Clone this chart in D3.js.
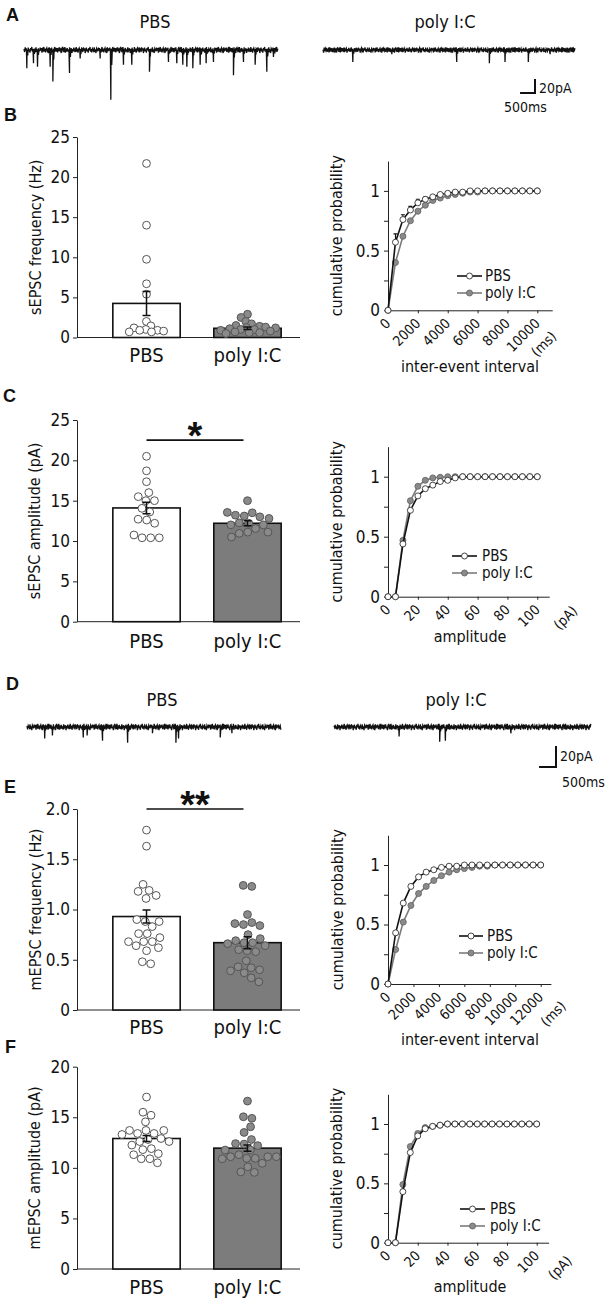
<!DOCTYPE html>
<html>
<head>
<meta charset="utf-8">
<script src="https://cdn.jsdelivr.net/npm/d3@7"></script>
<style>
body { margin: 0; background: #fff; }
svg text { font-family: 'Liberation Sans Narrow', 'Arial Narrow', 'DejaVu Sans Condensed', sans-serif; fill: #111; }
svg text.letter { font-family: 'Liberation Sans', Arial, sans-serif; font-weight: bold; }
</style>
</head>
<body>
<script>
// ---------- data ----------
const groups = ["PBS", "poly I:C"];

// example traces: spontaneous events [time ms, amplitude pA]
const tracePbsA = [[89,26],[312,19],[446,24],[870,24],[960,45],[1517,33],[1874,12],[2543,12],[2900,71],
  [3323,21],[3602,21],[4193,31],[4829,17],[5108,19],[5309,21],[5443,24],[5644,26],[5889,21],[6090,19],
  [6335,17],[7004,36],[7339,17],[7729,21],[8120,31],[8343,10]];
const tracePolyA = [[993,17],[2300,6],[4473,17],[5566,19],[6090,17],[6870,17],[7600,6]];
const tracePbsD = [[517,11],[745,8],[1656,10],[1770,8],[2226,13],[2966,15],[3700,6],[4392,15],[4470,11],[5700,10],[6045,6]];
const tracePolyD = [[1917,9],[3116,14],[3284,13],[5222,6]];
// baseline noise (normalised)
const noise = [0.3,-0.6,0.8,-0.2,0.5,-0.9,0.1,0.7,-0.4,0.2,-0.8,0.6,-0.1,0.9,-0.5,0.3,-0.7,0.4,0.0,-0.3,
  0.8,-0.6,0.2,-0.9,0.5,0.1,-0.4,0.7,-0.2,0.6,-0.8,0.3,-0.1,0.9,-0.5,0.4,-0.7,0.2,0.6,-0.3,
  0.1,-0.9,0.8,-0.4,0.5,-0.2,0.7,-0.6,0.0,0.4,-0.8,0.9,-0.1,0.3,-0.5,0.6,-0.7,0.2,-0.3,0.8,
  -0.4,0.1,-0.9,0.5,0.7,-0.2,0.3,-0.6,0.9,-0.8,0.4,-0.1,0.6,-0.5,0.2,-0.7,0.8,-0.3,0.0,0.5,
  -0.9,0.3,-0.4,0.7,-0.2,0.1,-0.6,0.9,-0.5,0.4,-0.8,0.2,0.6,-0.1,0.3,-0.7,0.5];

// B: sEPSC frequency
const bMeans = [4.25, 1.15];
const bSem = [1.5, 0.15];
const bPbsDots = [21.7, 14.0, 9.75, 6.7, 5.4, 2.0, 1.45, 1.2, 1.0, 0.9, 0.9, 0.7, 0.7, 0.8];
const bPolyDots = [2.9, 2.5, 2.0, 1.7, 1.5, 1.4, 1.3, 1.25, 1.2, 1.1, 1.0, 1.0, 0.9, 0.8, 0.7, 0.6, 0.6, 0.5];
const bInterval = [0,500,1000,1500,2000,2500,3000,3500,4000,4500,5000,5500,6000,6500,7000,7500,8000,8500,9000,9500,10000];
const bCumPbs = [0,0.57,0.76,0.84,0.90,0.93,0.95,0.97,0.98,0.99,0.99,1,1,1,1,1,1,1,1,1,1];
const bCumPbsErr = [0,0.07,0.04,0.03,0.03,0.02,0.01,0,0,0,0,0,0,0,0,0,0,0,0,0,0];
const bCumPoly = [0,0.40,0.62,0.75,0.83,0.88,0.92,0.94,0.96,0.97,0.98,0.99,0.99,1,1,1,1,1,1,1,1];

// C: sEPSC amplitude
const cMeans = [14.1, 12.2];
const cSem = [0.72, 0.3];
const cSig = 22.5;
const cPbsDots = [20.5, 18.7, 17.35, 16.0, 15.5, 15.0, 15.0, 14.05, 13.6, 12.7, 12.2, 12.6, 10.75, 10.4, 10.4, 10.4];
const cPolyDots = [15.0, 13.2, 12.8, 13.1, 13.55, 13.5, 13.0, 10.95, 11.1, 10.5, 11.1, 11.55, 12.0, 12.0, 12.25, 12.2];
const cAmp = [0,5,10,15,20,25,30,35,40,45,50,55,60,65,70,75,80,85,90,95,100];
const cCumPbs = [0,0,0.44,0.72,0.84,0.90,0.93,0.96,0.97,0.99,1,1,1,1,1,1,1,1,1,1,1];
const cCumPoly = [0,0,0.47,0.80,0.92,0.97,0.99,0.995,1,1,1,1,1,1,1,1,1,1,1,1,1];

// E: mEPSC frequency
const eMeans = [0.93, 0.67];
const eSem = [0.065, 0.06];
const eSig = 2.0;
const ePbsDots = [1.79,1.63,1.25,1.19,1.18,1.14,1.11,0.88,0.88,0.90,0.83,0.76,0.76,0.72,0.68,0.68,0.68,0.64,0.62,0.59,0.48,0.46];
const ePolyDots = [1.23,1.24,0.95,0.87,0.86,0.84,0.85,0.75,0.71,0.69,0.67,0.67,0.66,0.64,0.60,0.59,0.58,0.49,0.42,0.43,0.37,0.40,0.39,0.32,0.28];
const eInterval = [0,600,1200,1800,2400,3000,3600,4200,4800,5400,6000,6600,7200,7800,8400,9000,9600,10200,10800,11400,12000];
const eCumPbs = [0,0.43,0.68,0.82,0.90,0.94,0.96,0.98,0.99,0.99,1,1,1,1,1,1,1,1,1,1,1];
const eCumPoly = [0,0.29,0.52,0.66,0.76,0.82,0.87,0.91,0.94,0.96,0.97,0.98,0.99,0.99,1,1,1,1,1,1,1];

// F: mEPSC amplitude
const fMeans = [12.9, 11.95];
const fSem = [0.3, 0.32];
const fPbsDots = [17.0,15.5,15.2,14.55,13.3,13.4,13.7,13.4,13.7,13.7,12.9,12.8,12.25,12.6,12.6,11.8,11.9,11.3,11.4,10.9,10.9,10.5];
const fPolyDots = [16.6,15.05,14.9,14.06,13.5,12.8,12.35,12.4,12.2,11.76,11.76,10.94,11.1,11.1,11.1,11.3,10.94,10.9,10.45,10.1,9.6,9.55];
const fAmp = cAmp;
const fCumPbs = [0,0,0.43,0.76,0.90,0.96,0.98,0.99,1,1,1,1,1,1,1,1,1,1,1,1,1];
const fCumPoly = [0,0,0.49,0.81,0.92,0.97,0.98,0.99,1,1,1,1,1,1,1,1,1,1,1,1,1];

// ---------- drawing ----------
const svg = d3.select("body").append("svg").attr("width", 605).attr("height", 1300);
const AX = 77;      // bar panels y axis
const CAX = 388;    // cumulative panels y axis
const GREY = "#7c7c7c";

function letter(t, x, y) {
  svg.append("text").attr("class", "letter").attr("x", x).attr("y", y)
    .attr("font-size", 18).attr("dominant-baseline", "middle").text(t);
}

function label(t, x, y, size, anchor) {
  return svg.append("text").attr("x", x).attr("y", y).attr("font-size", size)
    .attr("text-anchor", anchor || "middle").attr("dominant-baseline", "middle").text(t);
}

function trace(events, o) {
  const x = d3.scaleLinear().domain([0, o.dur]).range(o.range);
  const y = d3.scaleLinear().domain([0, -20]).range([o.base, o.base + 20 * o.k]);
  const step = o.dur / (o.range[1] - o.range[0]) * 0.6;
  const pts = [];
  for (let i = 0; i * step <= o.dur; i++) pts.push([i * step, noise[(i + o.off) % noise.length] * o.noiseAmp]);
  events.forEach(([t, a]) => {
    pts.push([t + step * 0.3, -a]);
    pts.push([t + step * 1.8, -a * 0.3]);
  });
  pts.sort((p, q) => p[0] - q[0]);
  svg.append("path").datum(pts)
    .attr("d", d3.line().x(d => x(d[0])).y(d => y(d[1])))
    .attr("fill", "none").attr("stroke", "#111").attr("stroke-width", 1.3);
  return { x, y };
}

function scaleBar(sc, cx, cy, lab20, lab500) {
  const h = sc.x(500) - sc.x(0), v = sc.y(-20) - sc.y(0);
  svg.append("path").attr("d", `M${cx - h},${cy}H${cx}V${cy - v}`)
    .attr("fill", "none").attr("stroke", "#111").attr("stroke-width", 2);
  label("20pA", lab20[0], lab20[1], 14, "start");
  label("500ms", lab500[0], lab500[1], 14, "start");
}

function barPanel(o) {
  const y = d3.scaleLinear().domain([0, o.max]).range([o.y0, o.yTop]);
  const x = d3.scaleBand().domain(groups).range([96, 298]).paddingInner(0.333).paddingOuter(0.1667);
  const g = svg.append("g");

  g.append("g").attr("transform", `translate(${AX},0)`)
    .call(d3.axisLeft(y).tickValues(o.ticks).tickFormat(o.fmt).tickSize(4).tickSizeOuter(0).tickPadding(3))
    .attr("font-size", 17).attr("color", "#222");
  g.append("line").attr("x1", AX).attr("x2", 300).attr("y1", o.y0).attr("y2", o.y0)
    .attr("stroke", "#222").attr("stroke-width", 1);

  g.selectAll("rect").data(groups).join("rect")
    .attr("x", d => x(d)).attr("width", x.bandwidth())
    .attr("y", (d, i) => y(o.means[i])).attr("height", (d, i) => o.y0 - y(o.means[i]))
    .attr("fill", (d, i) => i ? GREY : "#fff").attr("stroke", "#111").attr("stroke-width", 1.6);

  // scatter of single cells, spread with a force layout
  groups.forEach((grp, gi) => {
    const cx = x(grp) + x.bandwidth() / 2;
    const nodes = o.dots[gi].map(v => ({ fy: y(v), v }));
    const sim = d3.forceSimulation(nodes)
      .force("x", d3.forceX(cx).strength(0.15))
      .force("c", d3.forceCollide(o.collide || 4.3))
      .stop();
    for (let i = 0; i < 300; i++) sim.tick();
    g.append("g").selectAll("circle").data(nodes).join("circle")
      .attr("cx", d => d.x).attr("cy", d => d.fy).attr("r", 3.9)
      .attr("fill", gi ? "#8a8a8a" : "#fff").attr("stroke", "#555").attr("stroke-width", 1);
  });

  // error bars
  groups.forEach((grp, gi) => {
    const cx = x(grp) + x.bandwidth() / 2;
    const lo = y(o.means[gi] - o.sem[gi]), hi = y(o.means[gi] + o.sem[gi]);
    g.append("path").attr("d", `M${cx},${lo}V${hi}M${cx - 4},${lo}h8M${cx - 4},${hi}h8`)
      .attr("stroke", "#111").attr("stroke-width", 1.5).attr("fill", "none");
  });

  groups.forEach(grp => label(grp, x(grp) + x.bandwidth() / 2, o.labelY, 20));

  label(o.title, 36, (o.y0 + o.yTop) / 2, 16)
    .attr("transform", `rotate(-90,36,${(o.y0 + o.yTop) / 2})`);

  if (o.sig !== undefined) {
    const x1 = x(groups[0]) + x.bandwidth() / 2, x2 = x(groups[1]) + x.bandwidth() / 2 - 4;
    g.append("line").attr("x1", x1).attr("x2", x2).attr("y1", y(o.sig)).attr("y2", y(o.sig))
      .attr("stroke", "#111").attr("stroke-width", 1.6);
    svg.append("text").attr("class", "letter").attr("x", (x1 + x2) / 2).attr("y", y(o.sig) + 9)
      .attr("text-anchor", "middle").attr("font-size", 38).text(o.sigLabel);
  }
}

function cumPanel(o) {
  const xEnd = CAX + (o.xLastPx - CAX) * o.xMax / o.xLast;
  const x = d3.scaleLinear().domain([0, o.xMax]).range([CAX, xEnd]);
  const y = d3.scaleLinear().domain([0, 1.25]).range([o.y0, o.y0 - 1.25 * o.unit]);
  const g = svg.append("g");

  g.append("g").attr("transform", `translate(${CAX},0)`)
    .call(d3.axisLeft(y).tickValues([0, 0.25, 0.5, 0.75, 1])
      .tickFormat(d => d === 0 ? "0" : d === 0.5 ? "0.5" : d === 1 ? "1" : "")
      .tickSize(4).tickSizeOuter(0).tickPadding(4))
    .attr("font-size", 17).attr("color", "#222");

  const gx = g.append("g").attr("transform", `translate(0,${o.y0})`)
    .call(d3.axisBottom(x).tickValues(o.ticks).tickFormat(d3.format("d")).tickSize(3).tickSizeOuter(0))
    .attr("font-size", 14).attr("color", "#222");
  gx.selectAll(".tick text").attr("x", 0).attr("y", 0).attr("dy", null)
    .attr("transform", "translate(3,14) rotate(-45)").attr("text-anchor", "end");
  svg.append("text").attr("font-size", 14).attr("text-anchor", "end")
    .attr("transform", `translate(${x(o.xLast) + o.unitDx},${o.y0 + o.unitDy}) rotate(-45)`)
    .text(o.unitLabel);

  const line = d3.line().x((d, i) => x(o.xs[i])).y(d => y(d));
  const series = [
    { vals: o.poly, stroke: GREY, fill: "#8a8a8a", ms: "#666" },
    { vals: o.pbs, stroke: "#111", fill: "#fff", ms: "#333" }
  ];
  series.forEach(s => {
    g.append("path").datum(s.vals).attr("d", line)
      .attr("fill", "none").attr("stroke", s.stroke).attr("stroke-width", 1.6);
    if (s.vals === o.pbs && o.pbsErr) {
      g.append("g").selectAll("path").data(o.pbsErr.map((e, i) => [i, e]).filter(d => d[1] > 0)).join("path")
        .attr("d", d => `M${x(o.xs[d[0]])},${y(s.vals[d[0]])}V${y(s.vals[d[0]] + d[1])}h-2h4`)
        .attr("stroke", "#111").attr("stroke-width", 1.1).attr("fill", "none");
    }
    g.append("g").selectAll("circle").data(s.vals).join("circle")
      .attr("cx", (d, i) => x(o.xs[i])).attr("cy", d => y(d)).attr("r", 3)
      .attr("fill", s.fill).attr("stroke", s.ms).attr("stroke-width", 0.9);
  });

  // legend
  const L = o.legend;
  [["PBS", series[1]], ["poly I:C", series[0]]].forEach(([name, s], i) => {
    const ly = i ? L.y2 : L.y1;
    g.append("line").attr("x1", L.x1).attr("x2", L.x2).attr("y1", ly).attr("y2", ly)
      .attr("stroke", s.stroke).attr("stroke-width", 1.6);
    g.append("circle").attr("cx", (L.x1 + L.x2) / 2).attr("cy", ly).attr("r", 3)
      .attr("fill", s.fill).attr("stroke", s.ms).attr("stroke-width", 0.9);
    label(name, L.tx, ly, 15, "start");
  });

  label("cumulative probability", 338, o.y0 - 0.625 * o.unit, 16)
    .attr("transform", `rotate(-90,338,${o.y0 - 0.625 * o.unit})`);
  label(o.title, 470, o.titleY, 16);
}

// ---------- panel A ----------
letter("A", 6, 16);
label("PBS", 155, 23, 18);
label("poly I:C", 445, 23, 18);
const scA = trace(tracePbsA, { dur: 8500, range: [24, 278], base: 50, k: 0.7, noiseAmp: 4.8, off: 0 });
trace(tracePolyA, { dur: 8440, range: [323, 575], base: 50, k: 0.7, noiseAmp: 4.2, off: 40 });
scaleBar(scA, 535, 93, [539, 89], [504, 108]);

// ---------- panel B ----------
letter("B", 4, 116);
barPanel({ y0: 337.5, yTop: 137, max: 25, ticks: [0, 5, 10, 15, 20, 25], fmt: d3.format("d"),
  means: bMeans, sem: bSem, dots: [bPbsDots, bPolyDots], labelY: 356, title: "sEPSC frequency (Hz)", collide: 3.1 });
cumPanel({ y0: 310.3, unit: 119.4, xLast: 10000, xLastPx: 537.3, xMax: 11000,
  ticks: [0, 2000, 4000, 6000, 8000, 10000], xs: bInterval, pbs: bCumPbs, pbsErr: bCumPbsErr, poly: bCumPoly,
  unitLabel: "(ms)", unitDx: 20, unitDy: 27, title: "inter-event interval", titleY: 367,
  legend: { x1: 457, x2: 482, tx: 485, y1: 276, y2: 293 } });

// ---------- panel C ----------
letter("C", 3, 397);
barPanel({ y0: 621.7, yTop: 420, max: 25, ticks: [0, 5, 10, 15, 20, 25], fmt: d3.format("d"),
  means: cMeans, sem: cSem, dots: [cPbsDots, cPolyDots], labelY: 642, title: "sEPSC amplitude (pA)",
  sig: cSig, sigLabel: "*" });
cumPanel({ y0: 596.7, unit: 120, xLast: 100, xLastPx: 537.3, xMax: 108,
  ticks: [0, 20, 40, 60, 80, 100], xs: cAmp, pbs: cCumPbs, poly: cCumPoly,
  unitLabel: "(pA)", unitDx: 41, unitDy: 15, title: "amplitude", titleY: 637,
  legend: { x1: 452, x2: 477, tx: 482, y1: 556, y2: 573 } });

// ---------- panel D ----------
letter("D", 6, 685);
label("PBS", 162, 701, 18);
label("poly I:C", 456, 701, 18);
const scD = trace(tracePbsD, { dur: 7500, range: [27, 281], base: 727, k: 1.05, noiseAmp: 3.3, off: 15 });
trace(tracePolyD, { dur: 7590, range: [334, 591], base: 727, k: 1.05, noiseAmp: 3.3, off: 70 });
scaleBar(scD, 556, 767, [560, 757], [562, 783]);

// ---------- panel E ----------
letter("E", 4, 788);
barPanel({ y0: 1010, yTop: 809, max: 2, ticks: [0, 0.5, 1, 1.5, 2], fmt: d => d === 0 ? "0" : d3.format(".1f")(d),
  means: eMeans, sem: eSem, dots: [ePbsDots, ePolyDots], labelY: 1028, title: "mEPSC frequency (Hz)",
  sig: eSig, sigLabel: "**" });
cumPanel({ y0: 984, unit: 119, xLast: 12000, xLastPx: 540.7, xMax: 12800,
  ticks: [0, 2000, 4000, 6000, 8000, 10000, 12000], xs: eInterval, pbs: eCumPbs, poly: eCumPoly,
  unitLabel: "(ms)", unitDx: 26, unitDy: 23, title: "inter-event interval", titleY: 1040,
  legend: { x1: 459, x2: 483, tx: 487, y1: 936, y2: 953 } });

// ---------- panel F ----------
letter("F", 5, 1048);
barPanel({ y0: 1269, yTop: 1066.7, max: 20, ticks: [0, 5, 10, 15, 20], fmt: d3.format("d"),
  means: fMeans, sem: fSem, dots: [fPbsDots, fPolyDots], labelY: 1288, title: "mEPSC amplitude (pA)" });
cumPanel({ y0: 1242.7, unit: 118.7, xLast: 100, xLastPx: 536.7, xMax: 108,
  ticks: [0, 20, 40, 60, 80, 100], xs: fAmp, pbs: fCumPbs, poly: fCumPoly,
  unitLabel: "(pA)", unitDx: 36, unitDy: 19, title: "amplitude", titleY: 1287,
  legend: { x1: 460, x2: 485, tx: 490, y1: 1209, y2: 1226 } });
</script>
</body>
</html>
